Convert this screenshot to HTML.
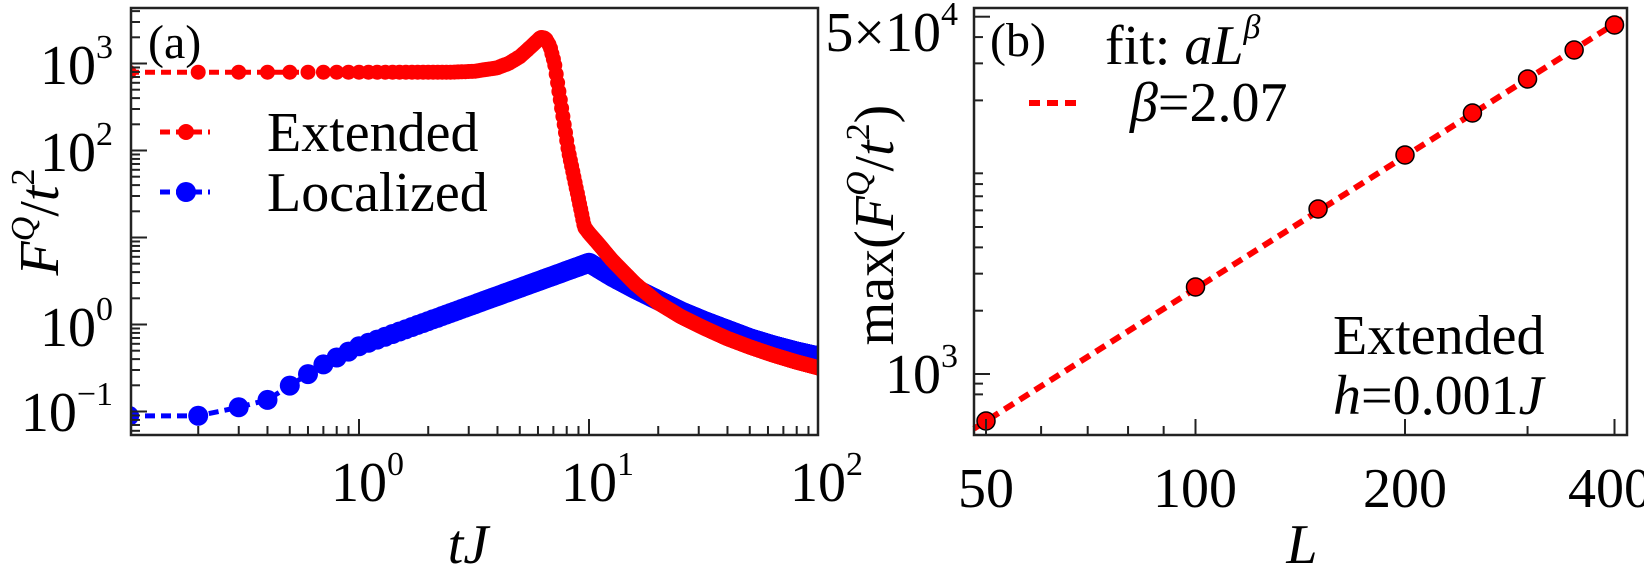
<!DOCTYPE html>
<html><head><meta charset="utf-8"><style>
html,body{margin:0;padding:0;background:#fff;}
svg{display:block;}
svg text{font-family:"Liberation Serif","DejaVu Serif",serif;}
</style></head><body>
<svg id="s" width="1644" height="574" viewBox="0 0 1644 574" xmlns="http://www.w3.org/2000/svg" font-family="Liberation Serif, serif">
<g id="a"></g>
<g id="b"></g>
<rect x="131" y="8" width="687" height="427" fill="none" stroke="#222" stroke-width="2.5"/>
<g font-size="56" fill="#000" font-family="Liberation Serif, serif">
<text x="113" y="84" text-anchor="end">10<tspan font-size="34" dy="-26">3</tspan></text>
<text x="113" y="171" text-anchor="end">10<tspan font-size="34" dy="-26">2</tspan></text>
<text x="113" y="346" text-anchor="end">10<tspan font-size="34" dy="-26">0</tspan></text>
<text x="113" y="431" text-anchor="end">10<tspan font-size="34" dy="-26">−1</tspan></text>
<text x="331" y="501">10<tspan font-size="34" dy="-26">0</tspan></text>
<text x="561" y="501">10<tspan font-size="34" dy="-26">1</tspan></text>
<text x="790" y="501">10<tspan font-size="34" dy="-26">2</tspan></text>
<text x="468" y="563" text-anchor="middle" font-style="italic">tJ</text>
<text transform="translate(58,222) rotate(-90)" text-anchor="middle"><tspan font-style="italic">F</tspan><tspan font-style="italic" font-size="34" dy="-24">Q</tspan><tspan dy="24">/</tspan><tspan font-style="italic">t</tspan><tspan font-size="34" dy="-24">2</tspan></text>
<text x="267" y="151">Extended</text>
<text x="267" y="211">Localized</text>
<text x="148" y="58" font-size="48">(a)</text>
</g>
<line x1="160" y1="132" x2="210" y2="132" stroke="#f00" stroke-width="5" stroke-dasharray="10,6"/>
<circle cx="186" cy="132" r="8" fill="#f00"/>
<line x1="160" y1="192" x2="210" y2="192" stroke="#00f" stroke-width="5" stroke-dasharray="10,6"/>
<circle cx="186" cy="192" r="10" fill="#00f"/>
<g id="ta" stroke="#222" stroke-width="2"></g>
<rect x="974" y="8" width="653" height="427" fill="none" stroke="#222" stroke-width="2.5"/>
<g id="tb" stroke="#222" stroke-width="2"></g>
<g font-size="56" fill="#000" font-family="Liberation Serif, serif">
<text x="958" y="51" text-anchor="end">5×10<tspan font-size="34" dy="-26">4</tspan></text>
<text x="958" y="393" text-anchor="end">10<tspan font-size="34" dy="-26">3</tspan></text>
<text x="986" y="507" text-anchor="middle">50</text>
<text x="1195" y="507" text-anchor="middle">100</text>
<text x="1405" y="507" text-anchor="middle">200</text>
<text x="1610" y="507" text-anchor="middle">400</text>
<text x="1302" y="563" text-anchor="middle" font-style="italic">L</text>
<text transform="translate(893,225) rotate(-90)" text-anchor="middle">max(<tspan font-style="italic">F</tspan><tspan font-style="italic" font-size="34" dy="-24">Q</tspan><tspan dy="24">/</tspan><tspan font-style="italic">t</tspan><tspan font-size="34" dy="-24">2</tspan><tspan dy="24">)</tspan></text>
<text x="990" y="56" font-size="48">(b)</text>
<text x="1105" y="64">fit: <tspan font-style="italic">aL</tspan><tspan font-style="italic" font-size="34" dy="-26">β</tspan></text>
<text x="1130" y="121"><tspan font-style="italic">β</tspan>=2.07</text>
<text x="1333" y="354">Extended</text>
<text x="1333" y="414"><tspan font-style="italic">h</tspan>=0.001<tspan font-style="italic">J</tspan></text>
</g>
<line x1="1029" y1="103" x2="1077" y2="103" stroke="#f00" stroke-width="6" stroke-dasharray="11,7"/>
</svg>
<script>
var NS="http://www.w3.org/2000/svg";
function el(p,n,a){var e=document.createElementNS(NS,n);for(var k in a)e.setAttribute(k,a[k]);p.appendChild(e);return e;}
function interp(pts,x){if(x<=pts[0][0])return pts[0][1];for(var i=1;i<pts.length;i++){if(x<=pts[i][0]){var a=pts[i-1],b=pts[i];return a[1]+(b[1]-a[1])*(x-a[0])/(b[0]-a[0]);}}return pts[pts.length-1][1];}
var red=[[-1,2.9],[0.4,2.9],[0.5,2.91],[0.6,2.95],[0.65,3.0],[0.7,3.08],[0.75,3.2],[0.79,3.3],[0.81,3.29],[0.83,3.2],[0.85,3.0],[0.88,2.5],[0.91,2.0],[0.95,1.5],[0.98,1.12],[1.0,1.05],[1.04,0.93],[1.1,0.74],[1.2,0.47],[1.3,0.25],[1.4,0.09],[1.5,-0.04],[1.6,-0.16],[1.7,-0.26],[1.8,-0.35],[1.9,-0.43],[2,-0.5]];
var blue=[[-1,-1.05],[-0.7,-1.05],[-0.52,-0.95],[-0.4,-0.87],[-0.3,-0.7],[-0.15,-0.45],[0,-0.25],[1,0.71],[1.1,0.55],[1.2,0.41],[1.3,0.28],[1.4,0.15],[1.5,0.04],[1.6,-0.06],[1.7,-0.16],[1.8,-0.24],[1.9,-0.31],[2,-0.37]];
var g=document.getElementById('a');
function X(lt){return 359+230*lt;}function Y(lf){return 324.5-87*lf;}
function series(pts,col,r){var gg=el(g,'g',{fill:col});
 var xy=[];for(var k=1;k<=1000;k++){var lt=Math.log10(k*0.1);xy.push([X(lt),Y(interp(pts,lt))]);}
 var d="M"+xy.map(function(p){return p[0].toFixed(1)+","+p[1].toFixed(1);}).join("L");
 el(gg,'path',{d:d,fill:"none",stroke:col,"stroke-width":5,"stroke-dasharray":"10,6"});
 xy.forEach(function(p){el(gg,'circle',{cx:p[0].toFixed(1),cy:p[1].toFixed(1),r:r});});}
var clip=el(document.getElementById('s'),'clipPath',{id:'ca'});el(clip,'rect',{x:131,y:8,width:687,height:427});
g.setAttribute('clip-path','url(#ca)');
series(blue,"#00f",10);series(red,"#f00",7.5);
var ta=document.getElementById('ta');
for(var e=-1;e<=2;e++)for(var m=1;m<10;m++){var x=X(e+Math.log10(m));if(x<131||x>818)continue;var L=m==1?16:9;el(ta,'line',{x1:x,y1:435,x2:x,y2:435-L});}
for(var e=-2;e<=3;e++)for(var m=1;m<10;m++){var y=Y(e+Math.log10(m));if(y<8||y>435)continue;var L=m==1?16:9;el(ta,'line',{x1:131,y1:y,x2:131+L,y2:y});}
var gb=document.getElementById('b');
function XB(L){return 986+209.5*Math.log2(L/50);}function YB(v){return 374-210.3*(Math.log10(v)-3);}
el(gb,'line',{x1:974,y1:428.6,x2:1627,y2:16,stroke:"#f00","stroke-width":6,"stroke-dasharray":"11,7"});
var pb=[[50,421],[100,287],[150,209],[200,155],[250,113],[300,79],[350,50],[400,25]];
pb.forEach(function(p){el(gb,'circle',{cx:XB(p[0]),cy:p[1],r:9,fill:"#f00",stroke:"#000","stroke-width":1.5});});
var tb=document.getElementById('tb');
[50,60,70,80,90,100,200,300,400].forEach(function(L){var x=XB(L);var l=(L==50||L==100||L==200||L==400)?16:9;el(tb,'line',{x1:x,y1:435,x2:x,y2:435-l});});
[800,900,1000,2000,3000,4000,5000,6000,7000,8000,9000,20000,30000,40000,50000].forEach(function(v){var y=YB(v);if(y<8||y>435)return;var l=(v==1000||v==50000)?16:9;el(tb,'line',{x1:974,y1:y,x2:974+l,y2:y});});
</script>
</body></html>
